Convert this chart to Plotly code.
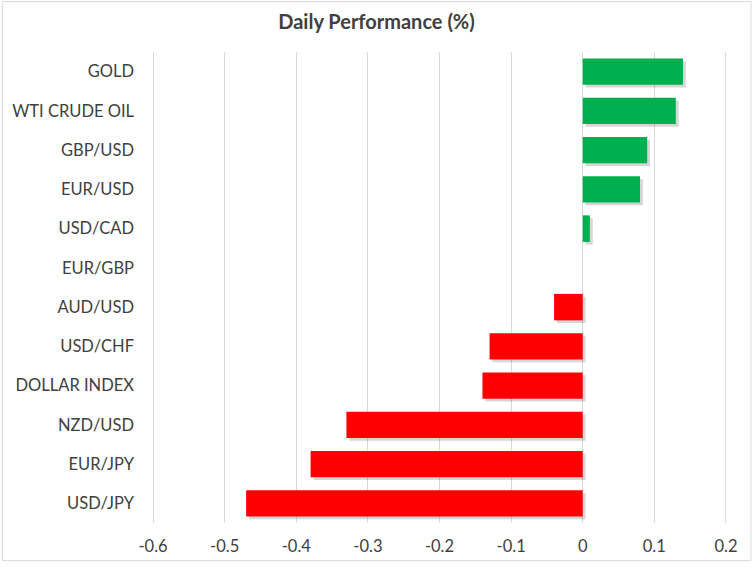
import plotly.graph_objects as go

categories = ["GOLD", "WTI CRUDE OIL", "GBP/USD", "EUR/USD", "USD/CAD", "EUR/GBP",
              "AUD/USD", "USD/CHF", "DOLLAR INDEX", "NZD/USD", "EUR/JPY", "USD/JPY"]
values = [0.14, 0.13, 0.09, 0.08, 0.01, 0.0,
          -0.04, -0.13, -0.14, -0.33, -0.38, -0.47]
tick_vals = [-0.6, -0.5, -0.4, -0.3, -0.2, -0.1, 0, 0.1, 0.2]
tick_text = ["-0.6", "-0.5", "-0.4", "-0.3", "-0.2", "-0.1", "0", "0.1", "0.2"]

cats = categories[::-1]
vals = values[::-1]
colors = ["#00B050" if v > 0 else "#FF0000" for v in vals]

W, H = 753, 568
ml, mr, mt, mb = 151, 26, 52, 40
pw, ph = W - ml - mr, H - mt - mb
bw = 0.675

fig = go.Figure()
# soft shadow
fig.add_trace(go.Bar(y=cats, x=vals, base=0.004, orientation="h", width=bw,
                     offset=-bw / 2 - 0.07, marker=dict(color="rgba(0,0,0,0.16)", line=dict(width=0)),
                     hoverinfo="skip", showlegend=False))
fig.add_trace(go.Bar(y=cats, x=vals, orientation="h", width=bw, offset=-bw / 2,
                     marker=dict(color=colors, line=dict(width=0)), showlegend=False))

fig.update_layout(
    width=W, height=H,
    margin=dict(l=ml, r=mr, t=mt, b=mb),
    paper_bgcolor="white", plot_bgcolor="white",
    barmode="overlay",
    font=dict(family="Lato, 'Open Sans', sans-serif", color="#404040", size=16.5),
    title=dict(text="<b>Daily Performance (%)</b>", x=0.5, xanchor="center",
               y=1 - 22 / H, yanchor="middle", font=dict(size=20, color="#404040")),
    xaxis=dict(range=[-0.6015, 0.2015], tickvals=tick_vals, ticktext=tick_text,
               showgrid=True, gridcolor="#D9D9D9", gridwidth=1, zeroline=False,
               showline=False, ticks="", tickfont=dict(size=16.5), ticklabelstandoff=11),
    yaxis=dict(type="category", categoryorder="array", categoryarray=cats,
               range=[-0.5, len(cats) - 0.5], showgrid=False, zeroline=False,
               showline=False, ticks="", tickfont=dict(size=16.5), ticklabelstandoff=17),
    shapes=[dict(type="rect", xref="paper", yref="paper",
                 x0=(1 - ml) / pw, x1=(W - 2 - ml) / pw,
                 y0=(H - mb - (H - 2)) / ph, y1=(H - mb - 1) / ph,
                 line=dict(color="#D9D9D9", width=1), fillcolor="rgba(0,0,0,0)", layer="below")],
)

fig.write_html("out.html", config={"displayModeBar": False},
               post_script="document.body.style.margin='0';document.body.style.overflow='hidden';")
